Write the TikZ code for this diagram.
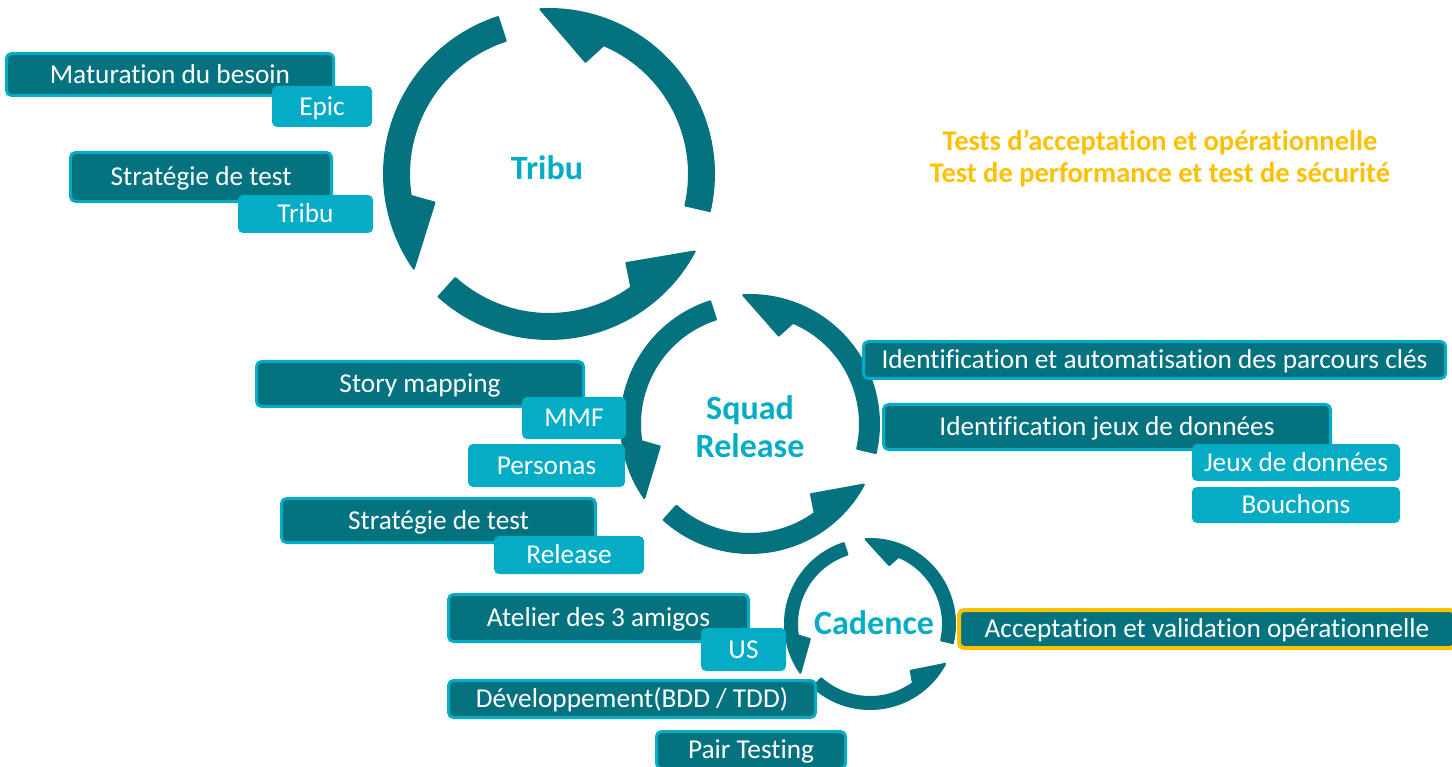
\documentclass[tikz,border=0pt]{standalone}
\usepackage{fontspec}
\setmainfont{Carlito}[Ligatures={NoCommon,NoRequired,NoContextual}]
\definecolor{dteal}{RGB}{5,114,127}
\definecolor{lteal}{RGB}{5,172,197}
\definecolor{gold}{RGB}{255,192,0}
\tikzset{
  body/.style={font=\fontsize{27.3}{32}\selectfont, text=white, text height=17.6pt, text depth=0pt, inner sep=0pt},
  darkbox/.style={body, fill=dteal, draw=lteal, line width=3pt, rounded corners=5pt},
  lightbox/.style={body, fill=lteal, rounded corners=5pt},
  goldbox/.style={body, fill=dteal, draw=gold, line width=4pt, rounded corners=5pt},
  heading/.style={font=\bfseries\fontsize{34}{38}\selectfont, text=lteal, inner sep=0pt},
  note/.style={font=\bfseries\fontsize{28.5}{32}\selectfont, text=gold, inner sep=0pt, text height=18.4pt, text depth=0pt},
  cyc/.style={fill=dteal, draw=dteal, line width=2pt, line join=round}
}
\newcommand\cycarrow[5]{%
  \filldraw[cyc] plot[domain=#4:#5,samples=50] (\x:#1) -- (#5-21:#3) -- (#5-26:#2)
    -- plot[domain=#5-26:#4,samples=50] (\x:#2) -- cycle;}
\begin{document}
\begin{tikzpicture}[x=1pt,y=-1pt]
\useasboundingbox (0,0) rectangle (1452,767);
\clip (0,0) rectangle (1452,767);
% cycles
\begin{scope}[shift={(549,174)}, yscale=-1]
  \cycarrow{165}{140}{118}{108}{215}
  \cycarrow{165}{140}{118}{228}{332}
  \cycarrow{165}{140}{118}{347}{453}
\end{scope}
\begin{scope}[shift={(750,424)}, yscale=-1]
  \cycarrow{129}{110}{93}{108}{215}
  \cycarrow{129}{110}{93}{228}{332}
  \cycarrow{129}{110}{93}{347}{453}
\end{scope}
\begin{scope}[shift={(870,624)}, yscale=-1]
  \cycarrow{85}{73}{62}{108}{215}
  \cycarrow{85}{73}{62}{228}{332}
  \cycarrow{85}{73}{62}{347}{453}
\end{scope}
% headings
\node[heading, text height=21.9pt, text depth=0pt] (htribu) at (547,169) {Tribu};
\node[heading, align=center] (hsquad) at (750,426.5) {Squad\\Release};
\node[heading, text height=21.9pt, text depth=0pt] (hcad) at (874,624) {Cadence};
% notes
\node[note] (n1) at (1160,141) {Tests d’acceptation et opérationnelle};
\node[note] (n2) at (1160,173) {Test de performance et test de sécurité};
% dark boxes
\node[darkbox, minimum width=327pt, minimum height=42pt] (matur) at (170,74.5) {Maturation du besoin};
\node[darkbox, minimum width=261pt, minimum height=49pt] (strat1) at (201,177) {Stratégie de test};
\node[darkbox, minimum width=327pt, minimum height=45pt] (story) at (420,384) {Story mapping};
\node[darkbox, minimum width=314pt, minimum height=44pt] (strat2) at (438.5,520.5) {Stratégie de test};
\node[darkbox, minimum width=582pt, minimum height=37pt] (idauto) at (1154.5,360) {Identification et automatisation des parcours clés};
\node[darkbox, minimum width=447pt, minimum height=45pt] (idjeux) at (1107,427) {Identification jeux de données};
\node[darkbox, minimum width=300pt, minimum height=47pt] (atelier) at (598.5,618) {Atelier des 3 amigos};
\node[darkbox, minimum width=367pt, minimum height=37pt] (dev) at (632,699) {Développement(BDD / TDD)};
\node[darkbox, minimum width=189pt, minimum height=37pt] (pair) at (751,750) {Pair Testing};
\node[goldbox, minimum width=496pt, minimum height=38pt] (accept) at (1207,629) {Acceptation et validation opérationnelle};
% light boxes
\node[lightbox, minimum width=100pt, minimum height=41pt] (epic) at (322,106.5) {Epic};
\node[lightbox, minimum width=135pt, minimum height=38pt] (tribu) at (305.5,214) {Tribu};
\node[lightbox, minimum width=104pt, minimum height=42pt] (mmf) at (574,418) {MMF};
\node[lightbox, minimum width=157pt, minimum height=43pt] (personas) at (546.5,465.5) {Personas};
\node[lightbox, minimum width=150pt, minimum height=38pt] (release) at (569,555) {Release};
\node[lightbox, minimum width=208pt, minimum height=37pt] (jeux) at (1296,462.5) {Jeux de données};
\node[lightbox, minimum width=208pt, minimum height=36pt] (bouchons) at (1296,505) {Bouchons};
\node[lightbox, minimum width=85pt, minimum height=43pt] (us) at (743.5,649.5) {US};
\end{tikzpicture}
\end{document}
